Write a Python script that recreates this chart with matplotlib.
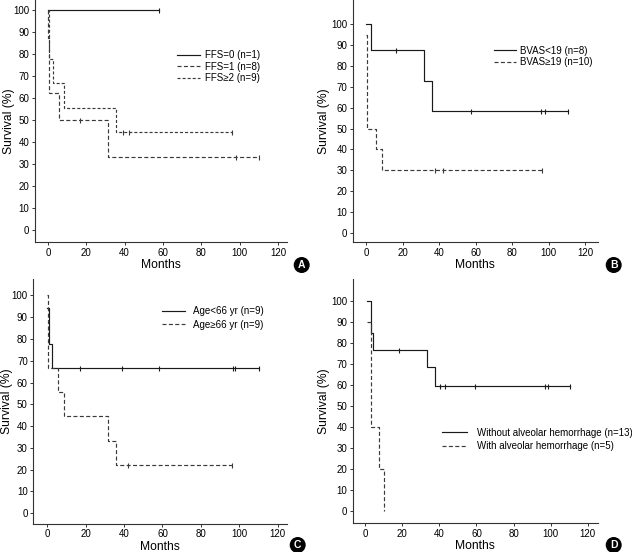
import matplotlib
matplotlib.use('Agg')
import matplotlib.pyplot as plt
import numpy as np

plt.rcParams['font.family'] = ['Liberation Sans', 'DejaVu Sans']
plt.rcParams['lines.scale_dashes'] = False

# Данные кривых выживаемости (время, мес; выживаемость, %; цензурированные наблюдения)
# Панель A
ffs0_t = [0, 58]
ffs0_s = [100, 100]
ffs0_c = [58]
ffs1_t = [0, 0.2, 0.6, 5.7, 31.3, 110]
ffs1_s = [100, 87.5, 62.5, 50, 33.3, 33.3]
ffs1_c = [16.7, 98, 110]
ffs2_t = [0, 0.4, 0.6, 2.8, 8.4, 35.6, 96]
ffs2_s = [100, 88.9, 77.8, 66.7, 55.6, 44.4, 44.4]
ffs2_c = [39, 42, 96]
# Панель B
bvas_lo_t = [0, 2.7, 31.5, 36, 110.4]
bvas_lo_s = [100, 87.5, 72.9, 58.3, 58.3]
bvas_lo_c = [16.4, 57.5, 96, 98, 110.4]
bvas_hi_t = [0, 0.55, 5.5, 8.7, 96.3]
bvas_hi_s = [95, 50, 40, 30, 30]
bvas_hi_c = [38, 42, 96.3]
# Панель C
age_lo_t = [0, 0.8, 2.5, 110.5]
age_lo_s = [94.4, 77.8, 66.7, 66.7]
age_lo_c = [16.8, 39, 58, 96.5, 98, 110.5]
age_hi_t = [0, 0.5, 5.8, 8.7, 31.8, 36, 96]
age_hi_s = [100, 66.7, 55.6, 44.4, 33.3, 22.2, 22.2]
age_hi_c = [42, 96]
# Панель D
noah_t = [0.9, 2.9, 4.3, 33.3, 37.6, 110.5]
noah_s = [100, 84.6, 76.9, 68.4, 59.8, 59.8]
noah_c = [18.4, 40.5, 43.2, 59.2, 96.8, 98.8, 110.5]
ah_t = [0.9, 2.9, 7.6, 10.3]
ah_s = [90, 40, 20, 0]
ah_c = []

xticks = [0, 20, 40, 60, 80, 100, 120]
yticks = [0, 10, 20, 30, 40, 50, 60, 70, 80, 90, 100]

SOLID = '#1a1a1a'
DASH = '#3a3a3a'
dash_std = (2.9, 1.7)
dash_short = (2.2, 1.45)


def km(ax, t, s, c, color, dashes=None, label=None):
    t = np.array(t, dtype=float)
    s = np.array(s, dtype=float)
    line, = ax.step(t, s, where='post', color=color, lw=0.85, label=label)
    if dashes is not None:
        line.set_dashes(dashes)
    if len(c):
        idx = np.searchsorted(t, c, side='right') - 1
        ax.plot(c, s[idx], ls='none', marker='|', ms=3.6, mew=0.8, color=color)
    return line


def setup(ax, xlim, ylim, ylab_x):
    ax.set_xlim(*xlim)
    ax.set_ylim(*ylim)
    ax.set_xticks(xticks)
    ax.set_yticks(yticks)
    for sp in ['top', 'right']:
        ax.spines[sp].set_visible(False)
    for sp in ['left', 'bottom']:
        ax.spines[sp].set_linewidth(0.8)
        ax.spines[sp].set_color('#333333')
    ax.tick_params(length=2, width=0.7, labelsize=7, pad=2, color='#333333')
    ax.set_xlabel('Months', fontsize=8.7, labelpad=1)
    ax.set_ylabel('Survival (%)', fontsize=8.7)
    # подпись оси Y: центр на заданном пикселе по горизонтали
    pos = ax.get_position()
    ax.yaxis.label.set_va('center')
    ax.yaxis.set_label_coords((ylab_x / 632 - pos.x0) / pos.width, 0.5)


def badge(x, y, letter):
    fig.text(x / 632, 1 - y / 552, letter, ha='center', va='center', color='white',
             fontsize=7.5, fontweight='bold',
             bbox=dict(boxstyle='circle,pad=0.22', fc='black', ec='black'))


def leg(ax, x, y, hl, htp, ls):
    ax.legend(loc='upper left', bbox_to_anchor=(x / 632, 1 - y / 552),
              bbox_transform=fig.transFigure, frameon=False, fontsize=7,
              borderpad=0, borderaxespad=0, handlelength=hl,
              handletextpad=htp, labelspacing=ls)


fig = plt.figure(figsize=(6.32, 5.52), dpi=100)

# A
axA = fig.add_axes([35 / 632, 1 - 242 / 552, 252 / 632, 242 / 552])
km(axA, ffs0_t, ffs0_s, ffs0_c, SOLID, label='FFS=0 (n=1)')
km(axA, ffs1_t, ffs1_s, ffs1_c, DASH, dash_std, label='FFS=1 (n=8)')
km(axA, ffs2_t, ffs2_s, ffs2_c, DASH, dash_short, label='FFS\u22652 (n=9)')
setup(axA, (-6.8, 124.7), (-5.5, 104.7), 8.5)
leg(axA, 176.7, 50, 2.4, 0.5, 0.17)
badge(301.7, 265, 'A')

# B
axB = fig.add_axes([352.7 / 632, 1 - 242.3 / 552, 245 / 632, 242.3 / 552])
km(axB, bvas_lo_t, bvas_lo_s, bvas_lo_c, SOLID, label='BVAS<19 (n=8)')
km(axB, bvas_hi_t, bvas_hi_s, bvas_hi_c, DASH, dash_std, label='BVAS\u226519 (n=10)')
setup(axB, (-7.3, 126.8), (-4.6, 111.7), 324.5)
leg(axB, 494.3, 45.5, 2.23, 0.45, 0.15)
badge(613.7, 265, 'B')

# C
axC = fig.add_axes([33.3 / 632, 1 - 523.7 / 552, 253.4 / 632, 244.7 / 552])
km(axC, age_lo_t, age_lo_s, age_lo_c, SOLID, label='Age<66 yr (n=9)')
km(axC, age_hi_t, age_hi_s, age_hi_c, DASH, dash_std, label='Age\u226566 yr (n=9)')
setup(axC, (-7.3, 124.7), (-4.8, 107.5), 7.5)
leg(axC, 162, 306, 2.37, 0.8, 0.4)
badge(297.7, 545, 'C')

# D
axD = fig.add_axes([352.7 / 632, 1 - 523.3 / 552, 245 / 632, 244.3 / 552])
km(axD, noah_t, noah_s, noah_c, SOLID, label='Without alveolar hemorrhage (n=13)')
km(axD, ah_t, ah_s, ah_c, DASH, dash_std, label='With alveolar hemorrhage (n=5)')
setup(axD, (-6.8, 125.4), (-5.8, 110.5), 324.5)
leg(axD, 442, 427.5, 2.54, 1.03, 0.35)
badge(613.7, 545, 'D')

fig.savefig('out.png', dpi=100)
